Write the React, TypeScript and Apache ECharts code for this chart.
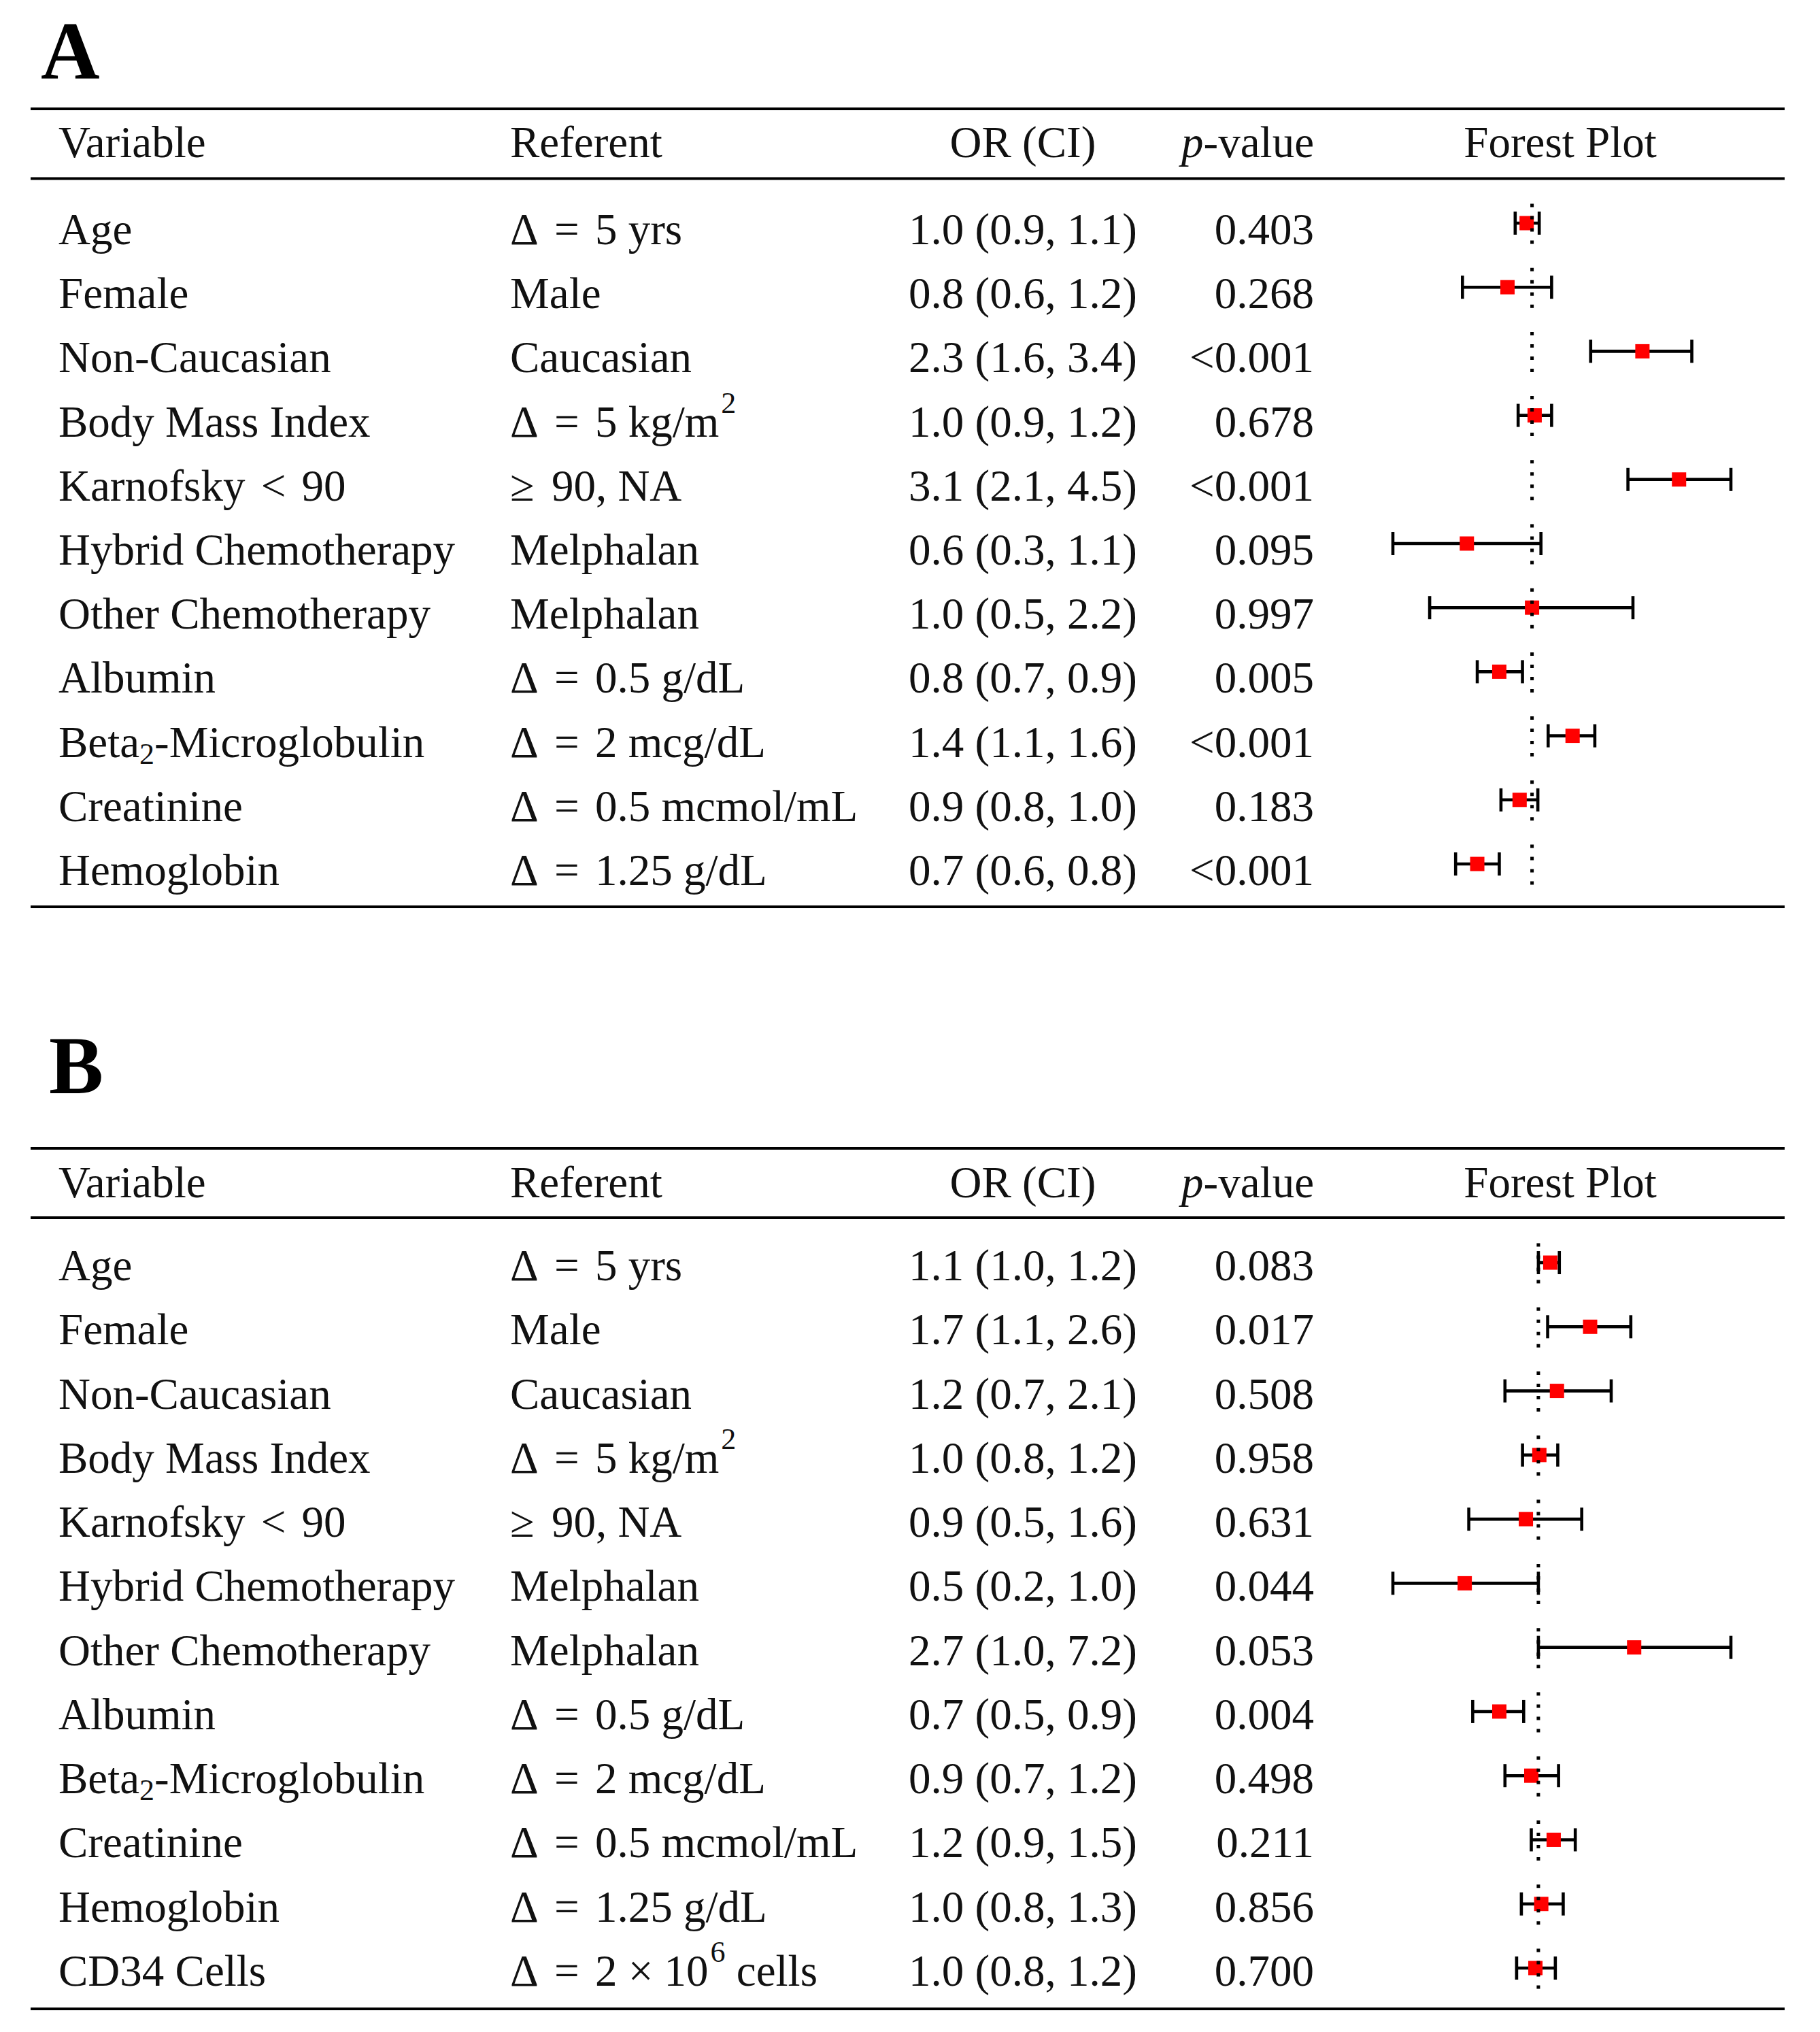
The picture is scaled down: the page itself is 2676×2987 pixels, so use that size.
import React, { useEffect, useRef } from "react";
import * as echarts from "echarts";

// ---------------- data ----------------
const variablesA = [
  "Age", "Female", "Non-Caucasian", "Body Mass Index", "Karnofsky < 90",
  "Hybrid Chemotherapy", "Other Chemotherapy", "Albumin", "Beta₂-Microglobulin",
  "Creatinine", "Hemoglobin",
];
const referentsA = [
  "Δ = 5 yrs", "Male", "Caucasian", "Δ = 5 kg/m²", "≥ 90, NA", "Melphalan",
  "Melphalan", "Δ = 0.5 g/dL", "Δ = 2 mcg/dL", "Δ = 0.5 mcmol/mL", "Δ = 1.25 g/dL",
];
const orCiA = [
  "1.0 (0.9, 1.1)", "0.8 (0.6, 1.2)", "2.3 (1.6, 3.4)", "1.0 (0.9, 1.2)", "3.1 (2.1, 4.5)",
  "0.6 (0.3, 1.1)", "1.0 (0.5, 2.2)", "0.8 (0.7, 0.9)", "1.4 (1.1, 1.6)", "0.9 (0.8, 1.0)",
  "0.7 (0.6, 0.8)",
];
const pValuesA = [
  "0.403", "0.268", "<0.001", "0.678", "<0.001", "0.095", "0.997", "0.005", "<0.001",
  "0.183", "<0.001",
];
const estA = [0.96, 0.83, 2.31, 1.02, 3.05, 0.61, 1.0, 0.78, 1.36, 0.91, 0.66];
const lowA = [0.88, 0.59, 1.56, 0.9, 2.07, 0.348, 0.46, 0.66, 1.13, 0.79, 0.56];
const highA = [1.056, 1.16, 3.36, 1.16, 4.52, 1.07, 2.15, 0.93, 1.61, 1.045, 0.78];

const variablesB = [
  "Age", "Female", "Non-Caucasian", "Body Mass Index", "Karnofsky < 90",
  "Hybrid Chemotherapy", "Other Chemotherapy", "Albumin", "Beta₂-Microglobulin",
  "Creatinine", "Hemoglobin", "CD34 Cells",
];
const referentsB = [
  "Δ = 5 yrs", "Male", "Caucasian", "Δ = 5 kg/m²", "≥ 90, NA", "Melphalan",
  "Melphalan", "Δ = 0.5 g/dL", "Δ = 2 mcg/dL", "Δ = 0.5 mcmol/mL", "Δ = 1.25 g/dL",
  "Δ = 2 × 10⁶ cells",
];
const orCiB = [
  "1.1 (1.0, 1.2)", "1.7 (1.1, 2.6)", "1.2 (0.7, 2.1)", "1.0 (0.8, 1.2)", "0.9 (0.5, 1.6)",
  "0.5 (0.2, 1.0)", "2.7 (1.0, 7.2)", "0.7 (0.5, 0.9)", "0.9 (0.7, 1.2)", "1.2 (0.9, 1.5)",
  "1.0 (0.8, 1.3)", "1.0 (0.8, 1.2)",
];
const pValuesB = [
  "0.083", "0.017", "0.508", "0.958", "0.631", "0.044", "0.053", "0.004", "0.498",
  "0.211", "0.856", "0.700",
];
const estB = [1.13, 1.7, 1.21, 1.01, 0.88, 0.47, 2.67, 0.67, 0.93, 1.17, 1.03, 0.97];
const lowB = [1.0, 1.1, 0.71, 0.85, 0.49, 0.225, 1.0, 0.51, 0.71, 0.93, 0.84, 0.8];
const highB = [1.24, 2.58, 2.11, 1.22, 1.56, 1.0, 7.2, 0.86, 1.23, 1.46, 1.29, 1.19];

const headers = ["Variable", "Referent", "OR (CI)", "{it|p}-value", "Forest Plot"];
const panelLabels = ["A", "B"];
const referenceOR = 1;

// ---------------- style / layout ----------------
const FONT = "'Liberation Serif', 'Times New Roman', serif";
const FS = 65;
const TEXT = "#111111";
const COL_VAR = 86;
const COL_REF = 750;
const COL_OR = 1504;
const COL_P = 1932;
const COL_FOREST = 2294;
const RULE_X1 = 45;
const RULE_X2 = 2624;

const RICH: any = {
  rel: { fontFamily: FONT, fontSize: FS, lineHeight: FS, fill: TEXT, padding: [0, 7, 0, 7] },
  relR: { fontFamily: FONT, fontSize: FS, lineHeight: FS, fill: TEXT, padding: [0, 9, 0, 0] },
  sup: { fontFamily: FONT, fontSize: 44, verticalAlign: "top", fill: TEXT, padding: [-17, 0, 0, 3] },
  sub: { fontFamily: FONT, fontSize: 44, verticalAlign: "bottom", fill: TEXT, padding: [0, 0, -7, 0] },
  it: { fontFamily: FONT, fontSize: FS, lineHeight: FS, fontStyle: "italic", fill: TEXT },
};

function toRich(s: string): string {
  return s
    .replace(/ = /g, " {rel|=} ")
    .replace(/ < /g, " {rel|<} ")
    .replace(/≥ /g, "{relR|≥} ")
    .replace(/²/g, "{sup|2}")
    .replace(/⁶/g, "{sup|6}")
    .replace(/₂/g, "{sub|2}");
}

function textEl(text: string, x: number, y: number, align: string, extra: any = {}) {
  return {
    type: "text",
    x,
    y,
    style: {
      text,
      rich: RICH,
      fill: TEXT,
      fontFamily: FONT,
      fontSize: FS,
      lineHeight: FS,
      align,
      verticalAlign: "middle",
      ...extra,
    },
  };
}

type Panel = {
  variables: string[];
  referents: string[];
  orCi: string[];
  pValues: string[];
  est: number[];
  low: number[];
  high: number[];
};

const panels: Panel[] = [
  { variables: variablesA, referents: referentsA, orCi: orCiA, pValues: pValuesA, est: estA, low: lowA, high: highA },
  { variables: variablesB, referents: referentsB, orCi: orCiB, pValues: pValuesB, est: estB, low: lowB, high: highB },
];

// row-centre geometry of each panel (layout)
const gridLayout = [
  { top: 280.9, rowH: 94.2, textDy: 9 },
  { top: 1808.9, rowH: 94.27, textDy: 4 },
];
// rule / header / label positions (layout)
const panelFrame = [
  { labelX: 60, labelY: 74, rule1: 160, headerY: 208.5, rule2: 262.5, rule3: 1333 },
  { labelX: 72, labelY: 1566, rule1: 1688, headerY: 1737.5, rule2: 1790, rule3: 2953 },
];

function makeRenderItem(p: Panel, textDy: number) {
  return (params: any, api: any) => {
    const i = params.dataIndex;
    const idx = api.value(0);
    const est = api.value(1);
    const lo = api.value(2);
    const hi = api.value(3);
    const yC = api.coord([referenceOR, idx])[1];
    const xRef = api.coord([referenceOR, idx])[0];
    const xEst = api.coord([est, idx])[0];
    const xLo = api.coord([lo, idx])[0];
    const xHi = api.coord([hi, idx])[0];
    const ty = yC + textDy;
    const box = 21;
    const cap = 17;
    const lw = 4.6;
    return {
      type: "group",
      children: [
        textEl(toRich(p.variables[i]), COL_VAR, ty, "left"),
        textEl(toRich(p.referents[i]), COL_REF, ty, "left"),
        textEl(p.orCi[i], COL_OR, ty, "center"),
        textEl(p.pValues[i], COL_P, ty, "right"),
        { type: "line", shape: { x1: xLo, y1: yC, x2: xHi, y2: yC }, style: { stroke: "#000", lineWidth: lw } },
        { type: "line", shape: { x1: xLo, y1: yC - cap, x2: xLo, y2: yC + cap }, style: { stroke: "#000", lineWidth: lw } },
        { type: "line", shape: { x1: xHi, y1: yC - cap, x2: xHi, y2: yC + cap }, style: { stroke: "#000", lineWidth: lw } },
        { type: "rect", shape: { x: xEst - box / 2, y: yC - box / 2, width: box, height: box }, style: { fill: "#ff0000" } },
        {
          type: "line",
          shape: { x1: xRef, y1: yC - 28.5, x2: xRef, y2: yC + 30.5 },
          style: { stroke: "#000", lineWidth: 5, lineDash: [5, 13] },
        },
      ],
    };
  };
}

function buildOption() {
  const grid: any[] = [];
  const xAxis: any[] = [];
  const yAxis: any[] = [];
  const series: any[] = [];
  const graphic: any[] = [];

  panels.forEach((p, k) => {
    const g = gridLayout[k];
    grid.push({ left: 2048, width: 497, top: g.top, height: g.rowH * p.variables.length });
    xAxis.push({
      type: "log",
      logBase: Math.E,
      gridIndex: k,
      min: Math.min(...p.low),
      max: Math.max(...p.high),
      show: false,
      splitLine: { show: false },
    });
    yAxis.push({ type: "category", gridIndex: k, data: p.variables, inverse: true, show: false });
    series.push({
      type: "custom",
      name: "panel" + panelLabels[k],
      xAxisIndex: k,
      yAxisIndex: k,
      clip: false,
      renderItem: makeRenderItem(p, g.textDy),
      encode: { y: 0, x: [1, 2, 3] },
      data: p.est.map((e, i) => [i, e, p.low[i], p.high[i]]),
    });

    const f = panelFrame[k];
    graphic.push({
      type: "text",
      x: f.labelX,
      y: f.labelY,
      style: {
        text: panelLabels[k],
        fill: "#000",
        fontFamily: FONT,
        fontSize: 120,
        fontWeight: "bold",
        align: "left",
        verticalAlign: "middle",
      },
    });
    [f.rule1, f.rule2, f.rule3].forEach((y) => {
      graphic.push({
        type: "line",
        shape: { x1: RULE_X1, y1: y, x2: RULE_X2, y2: y },
        style: { stroke: "#000", lineWidth: 4 },
      });
    });
    const hx = [COL_VAR, COL_REF, COL_OR, COL_P, COL_FOREST];
    const ha = ["left", "left", "center", "right", "center"];
    headers.forEach((h, j) => {
      graphic.push(textEl(h, hx[j], f.headerY, ha[j]));
    });
  });

  return {
    animation: false,
    backgroundColor: "#ffffff",
    grid,
    xAxis,
    yAxis,
    series,
    graphic,
  };
}

export default function App() {
  const ref = useRef<HTMLDivElement>(null);
  useEffect(() => {
    if (!ref.current) return;
    const chart = echarts.init(ref.current, null, { renderer: "svg" });
    chart.setOption(buildOption() as any);
    return () => chart.dispose();
  }, []);
  return (
    <div
      ref={ref}
      style={{ position: "absolute", left: 0, top: 0, width: 2676, height: 2987, background: "#fff" }}
    />
  );
}
